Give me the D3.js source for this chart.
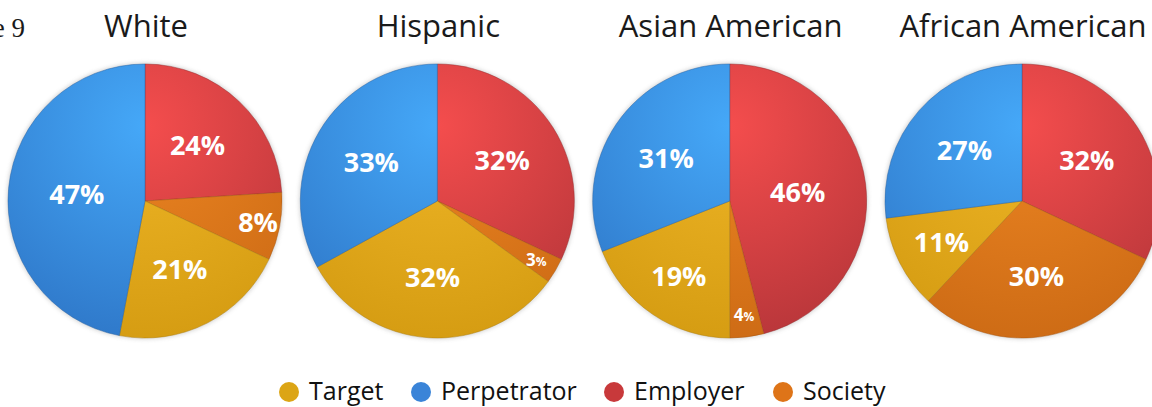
<!DOCTYPE html>
<html lang="en">
<head>
<meta charset="utf-8">
<title>Figure 9</title>
<script src="https://d3js.org/d3.v7.min.js"></script>
<style>
  body { margin: 0; background: #fff; }
  .title { font-family: "Open Sans", sans-serif; font-size: 31px; fill: #1a1a1a; }
  .fig { font-family: "Liberation Serif", serif; font-size: 27px; fill: #1a1a1a; }
  .lbl { font-family: "Open Sans", sans-serif; font-weight: bold; font-size: 27px; fill: #fff; }
  .legend text { font-family: "Open Sans", sans-serif; font-size: 25px; fill: #111; }
</style>
</head>
<body>
<svg id="chart" width="1152" height="407"></svg>
<script>
// Data
const groups = ["White", "Hispanic", "Asian American", "African American"];
const categories = ["Target", "Perpetrator", "Employer", "Society"];
// slice order clockwise from 12 o'clock
const sliceOrder = ["Employer", "Society", "Target", "Perpetrator"];
const employer    = [24, 32, 46, 32];
const society     = [8, 3, 4, 30];
const target      = [21, 32, 19, 11];
const perpetrator = [47, 33, 31, 27];

const values = { Employer: employer, Society: society, Target: target, Perpetrator: perpetrator };

const R = 137, cy = 201;

const colors = {
  Target:      { light: "#eeb526", dark: "#d59c12", legend: "#dca515" },
  Perpetrator: { light: "#45a8f8", dark: "#2f78c9", legend: "#3a84d8" },
  Employer:    { light: "#f44d4d", dark: "#b8363a", legend: "#c8393b" },
  Society:     { light: "#ec8522", dark: "#cd6b15", legend: "#de7418" }
};

const svg = d3.select("#chart");
const defs = svg.append("defs");

categories.forEach(c => {
  const g = defs.append("radialGradient")
    .attr("id", "grad-" + c)
    .attr("gradientUnits", "userSpaceOnUse")
    .attr("cx", 0).attr("cy", -R * 0.55).attr("r", R * 1.6);
  g.append("stop").attr("offset", "0%").attr("stop-color", colors[c].light);
  g.append("stop").attr("offset", "100%").attr("stop-color", colors[c].dark);
});

const shadow = defs.append("filter").attr("id", "shadow")
  .attr("x", "-10%").attr("y", "-10%").attr("width", "120%").attr("height", "120%");
shadow.append("feGaussianBlur").attr("stdDeviation", 2);

const x = d3.scalePoint().domain(groups).range([145, 1022]);

// figure label, cut off on the left
svg.append("text").attr("class", "fig")
  .attr("x", 25).attr("y", 37).attr("text-anchor", "end").text("Figure 9");

const pie = d3.pie().sort(null).value(d => d.value);
const arc = d3.arc().innerRadius(0).outerRadius(R);

groups.forEach((grp, i) => {
  const g = svg.append("g").attr("transform", `translate(${x(grp)},${cy})`);

  svg.append("text").attr("class", "title")
    .attr("x", x(grp) + 1).attr("y", 37)
    .attr("text-anchor", "middle").text(grp);

  g.append("circle").attr("r", R + 1).attr("fill", "#999")
    .attr("opacity", 0.45).attr("filter", "url(#shadow)");

  const slices = pie(sliceOrder.map(c => ({ cat: c, value: values[c][i] })));

  g.selectAll("path").data(slices).join("path")
    .attr("d", arc)
    .attr("fill", d => `url(#grad-${d.data.cat})`)
    .attr("stroke", d => d3.color(colors[d.data.cat].dark).darker(0.6))
    .attr("stroke-width", 0.8)
    .attr("stroke-opacity", 0.6);

  slices.forEach(d => {
    const v = d.data.value;
    const f = v < 10 ? 0.84 : v < 20 ? 0.66 : v > 40 ? 0.5 : 0.56;
    const mid = (d.startAngle + d.endAngle) / 2;
    const lx = Math.sin(mid) * R * f, ly = -Math.cos(mid) * R * f;
    const t = g.append("text").attr("class", "lbl")
      .attr("x", lx).attr("y", ly).attr("dy", "0.36em")
      .attr("text-anchor", "middle");
    if (v < 5) {
      t.style("font-size", "17px");
      t.append("tspan").text(v);
      t.append("tspan").style("font-size", "12px").text("%");
    } else {
      t.text(v + "%");
    }
  });
});

// Legend
const legendX = [289, 421, 614, 783];
const legend = svg.append("g").attr("class", "legend");
categories.forEach((c, i) => {
  legend.append("circle").attr("cx", legendX[i]).attr("cy", 392).attr("r", 10)
    .attr("fill", colors[c].legend);
  legend.append("text").attr("x", legendX[i] + 20).attr("y", 400).text(c);
});
</script>
</body>
</html>
